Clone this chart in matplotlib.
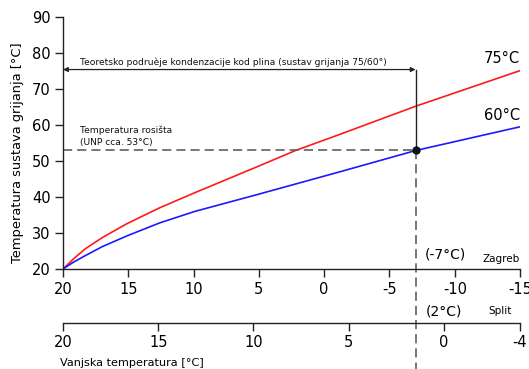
import matplotlib
matplotlib.use("Agg")
import matplotlib.pyplot as plt

plt.rcParams["font.family"] = "DejaVu Sans"
plt.rcParams["axes.unicode_minus"] = False

# Outside temperature (Zagreb scale) and system temperatures
outside_temp = [20, 19.2, 18.3, 17.0, 15.1, 12.6, 9.9, 5.2, 2.2, -1.2, -7, -15]
supply_75 = [20, 22.8, 25.6, 28.7, 32.6, 37.0, 41.2, 48.3, 52.9, 57.4, 65.2, 75.1]
supply_60 = [20, 21.9, 23.7, 26.2, 29.2, 32.8, 36.0, 40.6, 43.6, 47.0, 52.9, 59.5]

zagreb_ticks = [20, 15, 10, 5, 0, -5, -10, -15]
split_ticks = [20, 15, 10, 5, 0, -4]
y_ticks = [20, 30, 40, 50, 60, 70, 80, 90]

dew_point = 53
design_zagreb = -7
condensation_top = 75.4

fig = plt.figure(figsize=(5.29, 3.69), dpi=100)
ax = fig.add_axes([0.1191, 0.271, 0.864, 0.683])

ax.plot(outside_temp, supply_75, color="#ff1a1a", lw=1.2)
ax.plot(outside_temp, supply_60, color="#1a1aff", lw=1.2)

ax.set_xlim(20, -15)
ax.set_ylim(20, 90)
ax.set_xticks(zagreb_ticks)
ax.set_yticks(y_ticks)
for s in ["top", "right"]:
    ax.spines[s].set_visible(False)
for s in ["left", "bottom"]:
    ax.spines[s].set_color("#222222")
    ax.spines[s].set_linewidth(1.0)
ax.tick_params(direction="out", length=6, width=1, color="#222222",
               labelsize=10.5, pad=3)

# dew point dashed lines
ax.plot([20, design_zagreb], [dew_point, dew_point], color="#606060",
        lw=1.2, dashes=(5.5, 3))
ax.plot([design_zagreb, design_zagreb], [dew_point, -8], color="#606060",
        lw=1.2, dashes=(5.5, 3), clip_on=False)
ax.plot([design_zagreb, design_zagreb], [condensation_top, dew_point],
        color="#222222", lw=1.0)
ax.plot([design_zagreb], [dew_point], "o", color="#111111", ms=5)

ax.annotate("", xy=(20, condensation_top), xytext=(design_zagreb, condensation_top),
            arrowprops=dict(arrowstyle="<|-|>", color="#222222", lw=0.9,
                            mutation_scale=7, shrinkA=0, shrinkB=0))
ax.text(18.7, condensation_top + 0.6,
        "Teoretsko podruèje kondenzacije kod plina (sustav grijanja 75/60°)",
        fontsize=6.6, va="bottom", ha="left", color="#111111")
ax.text(18.7, dew_point + 1.0, "Temperatura rosišta\n(UNP cca. 53°C)",
        fontsize=6.6, va="bottom", ha="left", color="#111111", linespacing=1.3)

ax.text(-15, supply_75[-1] + 2.0, "75°C", fontsize=10.5, ha="right",
        va="baseline")
ax.text(-15, supply_60[-1] + 1.9, "60°C", fontsize=10.5, ha="right",
        va="baseline")

ax.text(design_zagreb - 0.7, 22.2, "(-7°C)", fontsize=10, ha="left", va="bottom")
ax.text(-15, 21.3, "Zagreb", fontsize=7.5, ha="right", va="bottom")

ax.set_ylabel("Temperatura sustava grijanja [°C]", fontsize=9.4)
ax.yaxis.set_label_coords(-0.085, 0.46)

# Split scale
ax2 = fig.add_axes([0.1191, 0.1247, 0.864, 0.0001])
ax2.set_xlim(20, -4)
ax2.set_xticks(split_ticks)
ax2.set_yticks([])
ax2.patch.set_visible(False)
for s in ["top", "right", "left"]:
    ax2.spines[s].set_visible(False)
ax2.spines["bottom"].set_color("#222222")
ax2.spines["bottom"].set_linewidth(1.0)
ax2.tick_params(direction="out", length=6, width=1, color="#222222",
                labelsize=10.5, pad=3)

fig.text(0.8045, 0.1247 + 0.012, "(2°C)", fontsize=10, ha="left", va="bottom")
fig.text(0.968, 0.1247 + 0.02, "Split", fontsize=7.5, ha="right", va="bottom")
fig.text(0.113, 0.003, "Vanjska temperatura [°C]", fontsize=8.1, ha="left",
         va="bottom")

fig.savefig("out.png", dpi=100)
